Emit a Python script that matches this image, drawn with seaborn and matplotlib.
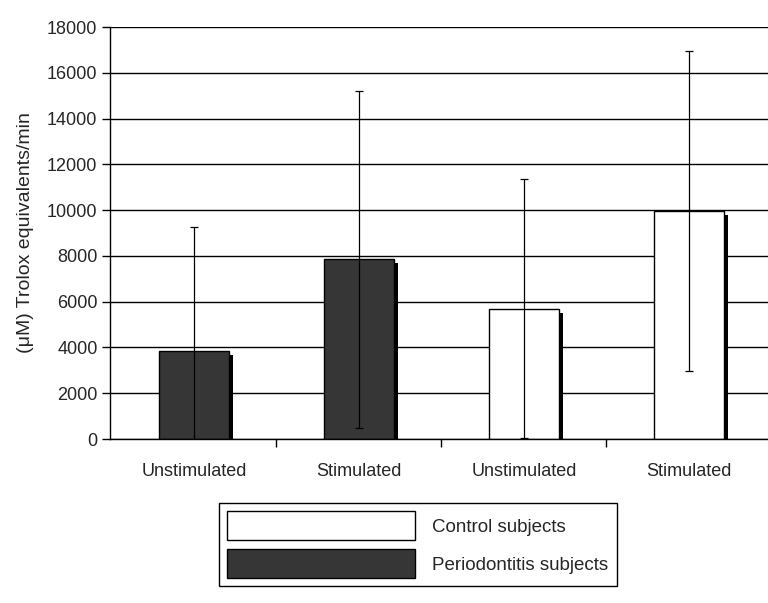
import matplotlib
matplotlib.use("Agg")
import matplotlib.pyplot as plt
import matplotlib.patheffects as pe
from matplotlib.patches import Patch
import numpy as np
import pandas as pd
import seaborn as sns

sns.set_theme(style="white")
plt.rcParams["font.family"] = ["Liberation Sans", "DejaVu Sans"]

# values
keys = ["P-unstim", "P-stim", "C-unstim", "C-stim"]
tick_labels = ["Unstimulated", "Stimulated", "Unstimulated", "Stimulated"]
groups = ["Periodontitis subjects", "Periodontitis subjects",
          "Control subjects", "Control subjects"]
means = [3850, 7850, 5700, 9950]
errors = [5400, 7350, 5650, 7000]

palette = {"Control subjects": "white", "Periodontitis subjects": "#363636"}

df = pd.DataFrame({"cond": keys, "group": groups, "value": means})

fig = plt.figure(figsize=(7.68, 6.03), dpi=100)
ax = fig.add_axes([110 / 768, 1 - 439 / 603, 1 - 110 / 768, (439 - 27) / 603])

sns.barplot(data=df, x="cond", y="value", hue="group", palette=palette,
            dodge=False, width=0.425, edgecolor="black", linewidth=1.0,
            errorbar=None, legend=False, ax=ax)

shadow = [pe.SimplePatchShadow(offset=(3, -3), shadow_rgbFace="black", alpha=1.0),
          pe.Normal()]
for bar in ax.patches:
    bar.set_path_effects(shadow)

ax.errorbar(ax.get_xticks(), means, yerr=errors, fmt="none", ecolor="black",
            elinewidth=0.9, capsize=3, capthick=0.9, zorder=5)

ax.set_ylim(0, 18000)
ax.set_xlim(-0.509, 3.48)
ax.set_yticks(np.arange(0, 18001, 2000))
ax.yaxis.grid(True, color="black", linewidth=1.0)
ax.set_axisbelow(True)

ax.set_xticks(ax.get_xticks())
ax.set_xticklabels(tick_labels, fontsize=13)
ax.set_xticks([0.5, 1.5, 2.5], minor=True)
ax.tick_params(axis="x", which="major", length=0, pad=17)
ax.tick_params(axis="x", which="minor", bottom=True, length=6, width=1, color="black")
ax.tick_params(axis="y", left=True, length=6, width=1, color="black", pad=3,
               labelsize=13)

for s in ["top", "right"]:
    ax.spines[s].set_visible(False)
for s in ["left", "bottom"]:
    ax.spines[s].set_color("black")
    ax.spines[s].set_linewidth(1.0)

ax.set_xlabel("")
ax.set_ylabel("(\u03bcM) Trolox equivalents/min", fontsize=14, labelpad=9)

handles = [Patch(facecolor=palette["Control subjects"], edgecolor="black"),
           Patch(facecolor=palette["Periodontitis subjects"], edgecolor="black")]
fig.legend(handles, ["Control subjects", "Periodontitis subjects"],
           loc="upper left", bbox_to_anchor=(219 / 768, 1 - 503 / 603),
           borderaxespad=0, fontsize=13.5, handlelength=10, handleheight=2.0,
           handletextpad=0.95, labelspacing=0.5, borderpad=0.43,
           fancybox=False, frameon=True, edgecolor="black", framealpha=1)

fig.savefig("out.png", dpi=100)
